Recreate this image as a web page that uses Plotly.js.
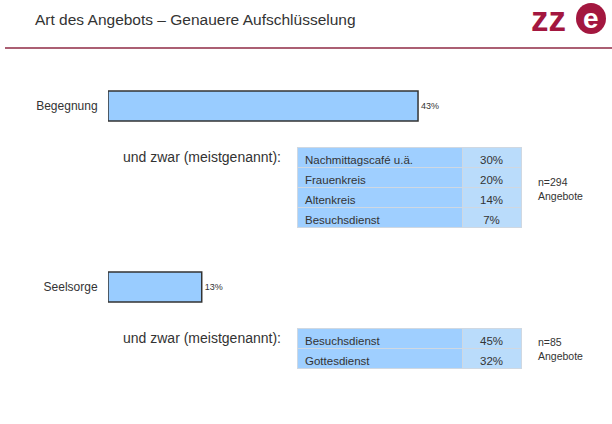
<!DOCTYPE html>
<html>
<head>
<meta charset="utf-8">
<script src="https://cdn.plot.ly/plotly-3.0.1.min.js"></script>
<style>html,body{margin:0;padding:0;background:#fff;}#chart{width:612px;height:424px;}</style>
</head>
<body>
<div id="chart"></div>
<script>
// ---- data ----
const categories = ["Begegnung", "Seelsorge"];
const shares = [43, 13];
const shareLabels = ["43%", "13%"];

const detailLabels1 = ["Nachmittagscafé u.ä.", "Frauenkreis", "Altenkreis", "Besuchsdienst"];
const detailValues1 = ["30%", "20%", "14%", "7%"];
const sampleNote1 = "n=294<br>Angebote";

const detailLabels2 = ["Besuchsdienst", "Gottesdienst"];
const detailValues2 = ["45%", "32%"];
const sampleNote2 = "n=85<br>Angebote";

const subHeading = "und zwar (meistgenannt):";
const chartTitle = "Art des Angebots – Genauere Aufschlüsselung";

// ---- geometry helpers (pixel -> paper) ----
const W = 612, H = 424, L = 108;
const px = x => (x - L) / (W - L);
const py = y => 1 - y / H;
const FONT = "Liberation Sans, Arial, sans-serif";

const barTrace = {
  type: "bar",
  orientation: "h",
  y: categories,
  x: shares,
  text: shareLabels,
  textposition: "outside",
  cliponaxis: false,
  textfont: {family: FONT, size: 9, color: "#333"},
  marker: {color: "#99ccff", line: {color: "#333", width: 1.5}},
  width: 0.166,
  hoverinfo: "skip"
};

function tableTrace(labels, values, yTop, yBot) {
  return {
    type: "table",
    domain: {x: [px(297), px(521)], y: [1 - yBot / H, 1 - yTop / H]},
    columnwidth: [165, 59],
    header: {
      values: [labels[0], values[0]],
      align: ["left", "center"],
      height: 20,
      fill: {color: ["#9fcfff", "#badcfb"]},
      line: {color: "#cfd8e2", width: 1},
      font: {family: FONT, size: 11.5, color: "#333"}
    },
    cells: {
      values: [labels.slice(1), values.slice(1)],
      align: ["left", "center"],
      height: 20,
      fill: {color: ["#9fcfff", "#badcfb"]},
      line: {color: "#cfd8e2", width: 1},
      font: {family: FONT, size: 11.5, color: "#333"}
    }
  };
}

const t1 = tableTrace(detailLabels1, detailValues1, 147, 240);
const t2 = tableTrace(detailLabels2, detailValues2, 328, 380);

const annotations = [
  {text: subHeading, x: px(121), y: py(157), xanchor: "left", yanchor: "middle"},
  {text: subHeading, x: px(121), y: py(338), xanchor: "left", yanchor: "middle"},
].map(a => Object.assign({xref: "paper", yref: "paper", showarrow: false,
  font: {family: FONT, size: 14, color: "#333"}}, a));

[[sampleNote1, 189], [sampleNote2, 349]].forEach(([t, y]) => {
  annotations.push({text: t, xref: "paper", yref: "paper", x: px(536), y: py(y),
    xanchor: "left", yanchor: "middle", align: "left", showarrow: false,
    font: {family: FONT, size: 10.5, color: "#333"}});
});

// logo
annotations.push({text: "<b>zz</b>", xref: "paper", yref: "paper", x: px(529), y: py(18),
  xanchor: "left", yanchor: "middle", showarrow: false,
  font: {family: FONT, size: 35, color: "#a3173f"}});
annotations.push({text: "<b>e</b>", xref: "paper", yref: "paper", x: px(591), y: py(18),
  xanchor: "center", yanchor: "middle", showarrow: false,
  font: {family: FONT, size: 28, color: "#ffffff"}});

const shapes = [
  {type: "line", xref: "paper", yref: "paper", x0: px(5), x1: px(612), y0: py(48), y1: py(48),
    line: {color: "#8f2a45", width: 1.5}},
  {type: "circle", xref: "paper", yref: "paper", x0: px(576), x1: px(606), y0: py(34), y1: py(3),
    fillcolor: "#a3173f", line: {width: 0}}
];

const layout = {
  width: W, height: H,
  margin: {l: L, r: 0, t: 0, b: 0},
  paper_bgcolor: "#ffffff",
  plot_bgcolor: "rgba(0,0,0,0)",
  showlegend: false,
  title: {text: chartTitle, xref: "container", yref: "container", x: 35 / W, xanchor: "left",
    y: 1 - 20 / H, yanchor: "middle", font: {family: FONT, size: 15.5, color: "#333"}},
  xaxis: {range: [0, (W - L) / 7.21], showgrid: false, zeroline: false, showticklabels: false,
    showline: false, fixedrange: true},
  yaxis: {type: "category", range: [318 / 181, -106 / 181], showgrid: false, zeroline: false,
    showline: false, ticks: "outside", ticklen: 7, tickcolor: "rgba(0,0,0,0)",
    tickfont: {family: FONT, size: 12, color: "#333"}, fixedrange: true},
  annotations: annotations,
  shapes: shapes
};

Plotly.newPlot("chart", [barTrace, t1, t2], layout, {displayModeBar: false, staticPlot: true});
</script>
</body>
</html>
